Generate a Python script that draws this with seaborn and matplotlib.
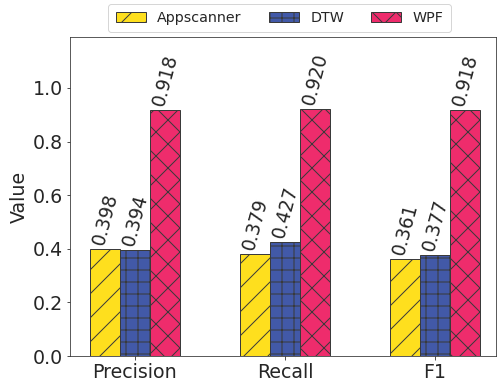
import matplotlib
matplotlib.use("Agg")
import matplotlib.pyplot as plt
import seaborn as sns
import pandas as pd

metrics = ["Precision", "Recall", "F1"]
methods = ["Appscanner", "DTW", "WPF"]
appscanner = [0.398, 0.379, 0.361]
dtw = [0.394, 0.427, 0.377]
wpf = [0.918, 0.920, 0.918]

colors = ["#FEDF1E", "#4259A8", "#EE2C6C"]
hatches = ["/", "+", "x"]

rows = []
for method, vals in zip(methods, [appscanner, dtw, wpf]):
    for m, v in zip(metrics, vals):
        rows.append({"Metric": m, "Method": method, "Value": v})
df = pd.DataFrame(rows)

sns.set_style("ticks")
plt.rcParams["font.family"] = ["DejaVu Sans"]
plt.rcParams["hatch.color"] = "#2a2a2a"
plt.rcParams["hatch.linewidth"] = 1.0

DPI = 72
fig, ax = plt.subplots(figsize=(498 / DPI, 382 / DPI), dpi=DPI)
sns.barplot(data=df, x="Metric", y="Value", hue="Method", order=metrics,
            hue_order=methods, palette=colors, saturation=1, width=0.6,
            ax=ax, edgecolor="#3a3a3a", linewidth=1.0, errorbar=None)

for container, hatch, vals in zip(ax.containers, hatches, [appscanner, dtw, wpf]):
    for bar in container:
        bar.set_hatch(hatch)
    ax.bar_label(container, labels=[f"{v:.3f}" for v in vals], rotation=75,
                 fontsize=18.5, padding=2, color="#262626")

ax.set_ylim(0, 1.19)
ax.set_xlim(-0.433, 2.407)
ax.set_yticks([0.0, 0.2, 0.4, 0.6, 0.8, 1.0])
ax.set_xlabel("")
ax.set_ylabel("Value", fontsize=19, color="#262626")
ax.tick_params(axis="both", labelsize=19, colors="#262626")
for s in ax.spines.values():
    s.set_color("#333333")

handles, labels = ax.get_legend_handles_labels()
for h, hatch in zip(handles, hatches):
    h.set_hatch(hatch)
ax.legend(handles, labels, loc="lower center", bbox_to_anchor=(0.492, 1.015),
          ncol=3, fontsize=14.3, frameon=True, handlelength=2.1,
          handleheight=0.7, handletextpad=0.8, columnspacing=1.9,
          borderpad=0.5, borderaxespad=0.0)

fig.subplots_adjust(left=0.1406, right=0.996, bottom=0.068, top=0.903)
fig.savefig("out.png", dpi=DPI)
